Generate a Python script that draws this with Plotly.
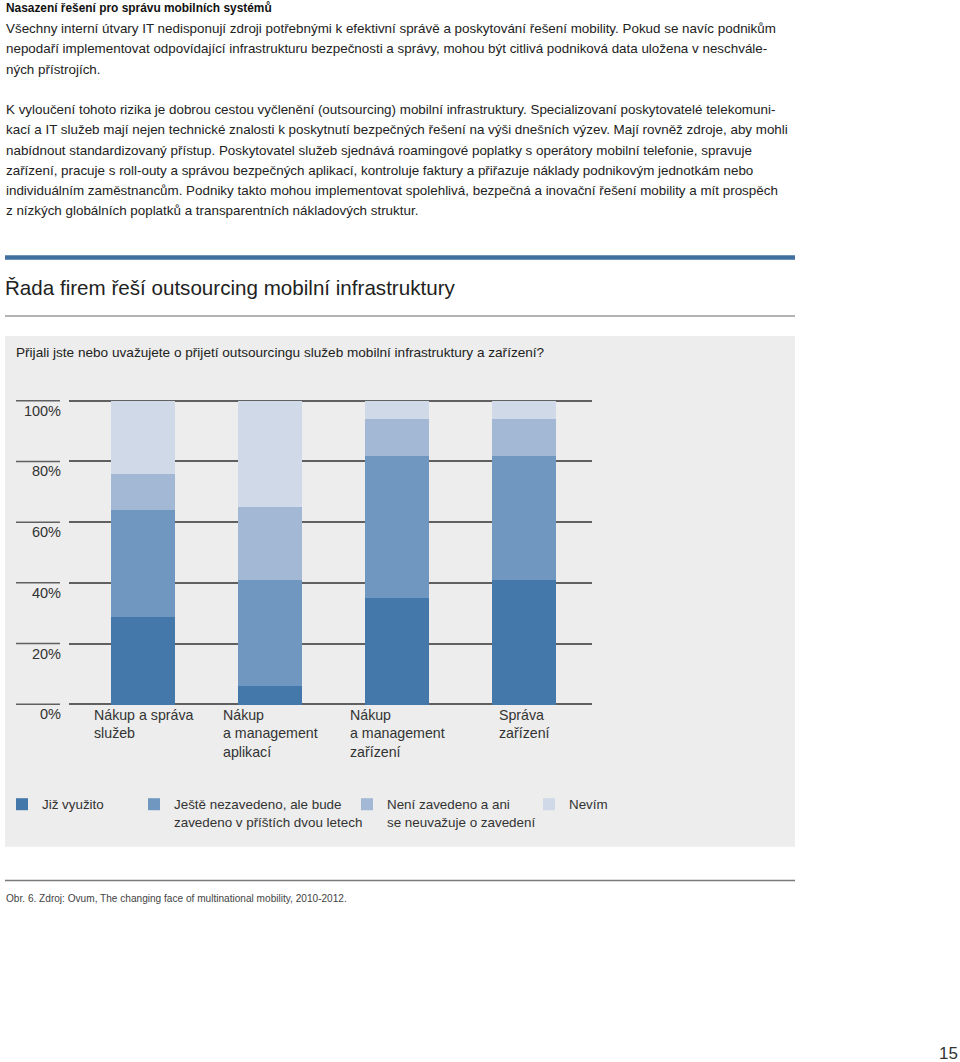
import plotly.graph_objects as go

W, H = 960, 1062

# ---------------- data ----------------
categories = ["Nákup a správa služeb", "Nákup a management aplikací",
              "Nákup a management zařízení", "Správa zařízení"]
category_labels = ["Nákup a správa<br>služeb", "Nákup<br>a management<br>aplikací",
                   "Nákup<br>a management<br>zařízení", "Správa<br>zařízení"]
series_names = ["Již využito",
                "Ještě nezavedeno, ale bude<br>zavedeno v příštích dvou letech",
                "Není zavedeno a ani<br>se neuvažuje o zavedení",
                "Nevím"]
already_used = [29, 6, 35, 41]
planned_two_years = [35, 35, 47, 41]
not_planned = [12, 24, 12, 12]
dont_know = [24, 35, 6, 6]
series_values = [already_used, planned_two_years, not_planned, dont_know]
series_colors = ["#4477AA", "#7097C0", "#A3B8D4", "#CFD9E8"]

tick_values = [0, 20, 40, 60, 80, 100]
tick_labels = ["0%", "20%", "40%", "60%", "80%", "100%"]

heading = "Nasazení řešení pro správu mobilních systémů"
para1 = ["Všechny interní útvary IT nedisponují zdroji potřebnými k efektivní správě a poskytování řešení mobility. Pokud se navíc podnikům",
         "nepodaří implementovat odpovídající infrastrukturu bezpečnosti a správy, mohou být citlivá podniková data uložena v neschvále-",
         "ných přístrojích."]
para2 = ["K vyloučení tohoto rizika je dobrou cestou vyčlenění (outsourcing) mobilní infrastruktury. Specializovaní poskytovatelé telekomuni-",
         "kací a IT služeb mají nejen technické znalosti k poskytnutí bezpečných řešení na výši dnešních výzev. Mají rovněž zdroje, aby mohli",
         "nabídnout standardizovaný přístup. Poskytovatel služeb sjednává roamingové poplatky s operátory mobilní telefonie, spravuje",
         "zařízení, pracuje s roll-outy a správou bezpečných aplikací, kontroluje faktury a přiřazuje náklady podnikovým jednotkám nebo",
         "individuálním zaměstnancům. Podniky takto mohou implementovat spolehlivá, bezpečná a inovační řešení mobility a mít prospěch",
         "z nízkých globálních poplatků a transparentních nákladových struktur."]
title = "Řada firem řeší outsourcing mobilní infrastruktury"
question = "Přijali jste nebo uvažujete o přijetí outsourcingu služeb mobilní infrastruktury a zařízení?"
footnote = "Obr. 6. Zdroj: Ovum, The changing face of multinational mobility, 2010-2012."
page_number = "15"

FONT = "Liberation Sans, Arial, sans-serif"


def px(x):
    return x / W


def py(y):
    return 1 - y / H


# legend placement (left edge of each legend square, in pixels)
legend_square_left = [15, 147, 360, 542]
legend_ids = ["legend", "legend2", "legend3", "legend4"]

fig = go.Figure()
for name, vals, col, lid in zip(series_names, series_values, series_colors, legend_ids):
    fig.add_trace(go.Bar(x=categories, y=vals, name=name, marker_color=col,
                         marker_line_width=0, width=0.504, legend=lid))

# plot area geometry (pixels)
x_left, x_right = 69, 592
y_top, y_bot = 397.66, 707.34

annotations = []


def txt(x, y, text, size, color="#222", bold=False, anchor="left"):
    annotations.append(dict(x=px(x - 2 if anchor == "left" else x + 2), y=py(y),
                            xref="paper", yref="paper",
                            text=("<b>%s</b>" % text) if bold else text,
                            showarrow=False, xanchor=anchor, yanchor="middle",
                            align="left",
                            font=dict(family=FONT, size=size, color=color)))


txt(6, 8, heading, 11.9, "#111", bold=True)
for i, line in enumerate(para1):
    txt(6, 28 + 20.5 * i, line, 13.4)
for i, line in enumerate(para2):
    txt(6, 109.5 + 20.3 * i, line, 13.4)
txt(5, 288, title, 20.6, "#222")
txt(16, 352, question, 13.6, "#222")
txt(6, 898, footnote, 10.1, "#444")
txt(958, 1053, page_number, 17, "#333", anchor="right")

for cat, lab in zip(categories, category_labels):
    annotations.append(dict(x=cat, y=py(705), xref="x", yref="paper", text=lab,
                            showarrow=False, xanchor="center", yanchor="top",
                            align="left",
                            font=dict(family=FONT, size=14.2, color="#333")))

shapes = [
    dict(type="rect", xref="paper", yref="paper", x0=px(5), x1=px(795),
         y0=py(336), y1=py(846.7), fillcolor="#ECEDEC", line_width=0, layer="below"),
    dict(type="rect", xref="paper", yref="paper", x0=px(5), x1=px(795),
         y0=py(255.3), y1=py(259.7), fillcolor="#41709F", line_width=0, layer="below"),
    dict(type="line", xref="paper", yref="paper", x0=px(5), x1=px(795),
         y0=py(316), y1=py(316), line=dict(color="#9A9A9A", width=1.6)),
    dict(type="line", xref="paper", yref="paper", x0=px(5), x1=px(795),
         y0=py(880.5), y1=py(880.5), line=dict(color="#7A7A7A", width=1.6)),
]
for v in tick_values:
    shapes.append(dict(type="line", xref="paper", yref="y", x0=px(16), x1=px(60),
                       y0=v, y1=v, line=dict(color="#606060", width=1.5), layer="below"))

legend_font = dict(family=FONT, size=13.4, color="#333")
legends = {}
for lid, sq in zip(legend_ids, legend_square_left):
    legends[lid] = dict(orientation="h", x=px(sq - 13), y=py(789), xanchor="left",
                        yanchor="top", valign="top", bgcolor="rgba(0,0,0,0)",
                        font=legend_font)

fig.update_layout(
    width=W, height=H,
    margin=dict(l=0, r=0, t=0, b=0, autoexpand=False),
    paper_bgcolor="white", plot_bgcolor="rgba(0,0,0,0)",
    barmode="stack", bargap=0,
    font=dict(family=FONT, color="#333"),
    xaxis=dict(domain=[px(x_left), px(x_right)], range=[-0.583, 3.535],
               type="category", showticklabels=False, showgrid=False,
               zeroline=False, showline=False, ticks="", automargin=False),
    yaxis=dict(domain=[py(y_bot), py(y_top)], range=[-1, 101],
               tickvals=tick_values, ticktext=tick_labels,
               showgrid=True, gridcolor="#606060", gridwidth=1.5,
               zeroline=False, showline=False, ticks="", automargin=False,
               tickfont=dict(family=FONT, size=14.5, color="#333"),
               ticklabelstandoff=7, ticklabelshift=10),
    showlegend=True,
    annotations=annotations,
    shapes=shapes,
    **legends,
)

fig.write_html("out.html",
               config={"displayModeBar": False},
               post_script="document.body.style.margin='0px';"
                           "document.body.style.overflow='hidden';")
